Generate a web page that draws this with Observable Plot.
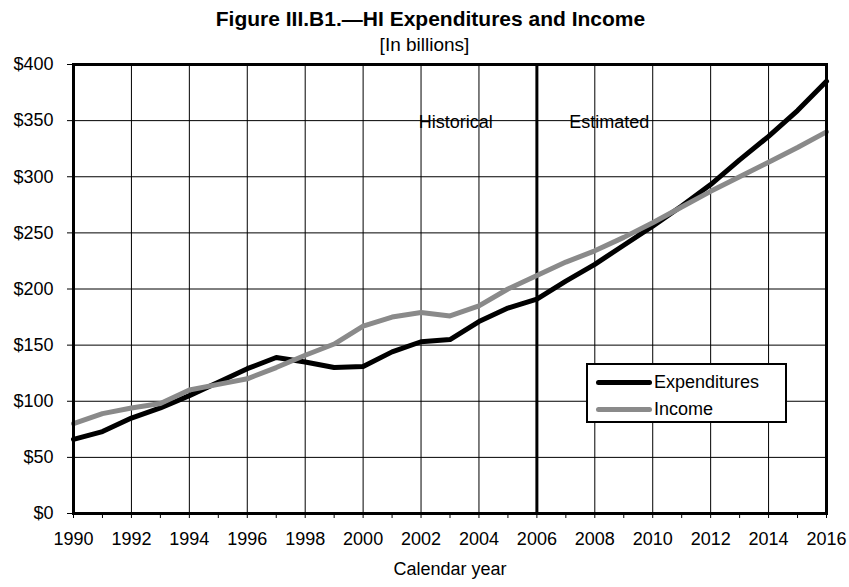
<!DOCTYPE html>
<html>
<head>
<meta charset="utf-8">
<script src="https://cdn.jsdelivr.net/npm/d3@7"></script>
<script src="https://cdn.jsdelivr.net/npm/@observablehq/plot@0.6"></script>
<style>
  html, body { margin: 0; padding: 0; background: #fff; }
  body { width: 849px; height: 587px; position: relative; overflow: hidden; font-family: "Liberation Sans", Arial, sans-serif; }
  #header { position: relative; height: 44px; z-index: 2; }
  #title { position: absolute; left: 6px; width: 849px; top: 8px; text-align: center; font-weight: bold; font-size: 21px; line-height: 21px; white-space: nowrap; }
  #subtitle { position: absolute; left: 0; width: 849px; top: 35px; text-align: center; font-size: 19px; line-height: 19px; white-space: nowrap; }
  #chart { position: relative; z-index: 1; }
  #legend { position: absolute; left: 586px; top: 363px; width: 197px; height: 56px; border: 2px solid #000; background: #fff; z-index: 3; }
  .lg-row { position: absolute; left: 8px; height: 20px; display: flex; align-items: center; font-size: 18px; line-height: 20px; white-space: nowrap; }
  .lg-sw { width: 56px; height: 5px; border-radius: 3px; margin-right: 2px; }
</style>
</head>
<body>
<div id="header">
  <div id="title"></div>
  <div id="subtitle"></div>
</div>
<div id="chart"></div>
<div id="legend"></div>
<script>
const titleText = "Figure III.B1.\u2014HI Expenditures and Income";
const subtitleText = "[In billions]";
const xLabel = "Calendar year";

const years = [1990,1991,1992,1993,1994,1995,1996,1997,1998,1999,2000,2001,2002,2003,2004,2005,2006,2007,2008,2009,2010,2011,2012,2013,2014,2015,2016];
const expenditures = [66,73,85,94,105,117,129,139,135,130,131,144,153,155,171,183,191,207,222,239,256,274,293,315,336,359,385];
const income = [80,89,94,98,110,115,120,130,141,151,167,175,179,176,185,200,212,224,234,246,259,273,287,300,313,326,340];

const seriesNames = ["Expenditures", "Income"];
const seriesColors = ["#000000", "#8a8a8a"];

const yTicks = [0,50,100,150,200,250,300,350,400];
const xGridYears = [1990,1992,1994,1996,1998,2000,2002,2004,2006,2008,2010,2012,2014,2016];
const dividerYear = [2006];
const annotations = [
  {year: 2003.2, value: 349, label: "Historical"},
  {year: 2008.5, value: 349, label: "Estimated"}
];

document.getElementById("title").textContent = titleText;
document.getElementById("subtitle").textContent = subtitleText;

const rows = [];
years.forEach((y, i) => {
  rows.push({year: y, value: expenditures[i], series: seriesNames[0]});
  rows.push({year: y, value: income[i], series: seriesNames[1]});
});

const chart = Plot.plot({
  width: 849,
  height: 543,
  marginTop: 20,
  marginBottom: 74,
  marginLeft: 73,
  marginRight: 23,
  style: {fontFamily: "'Liberation Sans', Arial, sans-serif", fontSize: "18px", color: "#000", background: "transparent"},
  x: {domain: [1990, 2016]},
  y: {domain: [0, 400]},
  color: {domain: seriesNames, range: seriesColors},
  marks: [
    Plot.ruleY(yTicks, {stroke: "#000", strokeWidth: 1}),
    Plot.ruleX(xGridYears, {stroke: "#000", strokeWidth: 1}),
    Plot.ruleX(dividerYear, {stroke: "#000", strokeWidth: 3}),
    Plot.text(annotations, {x: "year", y: "value", text: "label", fontSize: 18, fill: "#000"}),
    Plot.line(rows, {x: "year", y: "value", z: "series", stroke: "series", strokeWidth: 5, strokeLinejoin: "round", strokeLinecap: "round"}),
    Plot.frame({stroke: "#000", strokeWidth: 3}),
    Plot.axisX({ticks: years, tickFormat: d => (d % 2 === 0 ? String(d) : ""), tickSize: 5, tickPadding: 14, fontSize: 18, label: null}),
    Plot.axisY({ticks: yTicks, tickFormat: d => "$" + d, tickSize: 6, tickPadding: 14, fontSize: 18, label: null}),
    Plot.text([xLabel], {frameAnchor: "bottom", dy: 61, fontSize: 18, fill: "#000"})
  ]
});
document.getElementById("chart").appendChild(chart);

const legend = document.getElementById("legend");
seriesNames.forEach((name, i) => {
  const row = document.createElement("div");
  row.className = "lg-row";
  row.style.top = (i === 0 ? 7 : 34) + "px";
  const sw = document.createElement("div");
  sw.className = "lg-sw";
  sw.style.background = seriesColors[i];
  const t = document.createElement("span");
  t.textContent = name;
  row.appendChild(sw);
  row.appendChild(t);
  legend.appendChild(row);
});
</script>
</body>
</html>
